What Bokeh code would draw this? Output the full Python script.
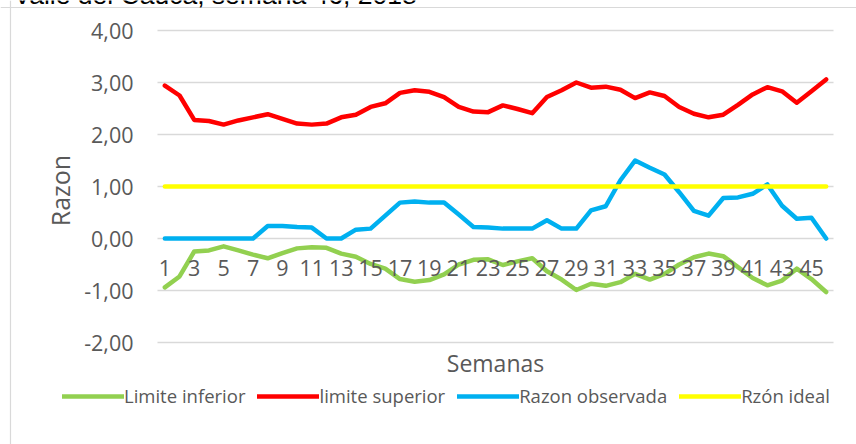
from bokeh.plotting import figure
from bokeh.models import (Range1d, FixedTicker, CustomJSTickFormatter, Legend,
                          LegendItem, Label, Span)
from bokeh.embed import file_html
from bokeh.resources import INLINE

weeks = list(range(1, 47))

limite_inferior = [
    -0.94, -0.73, -0.25, -0.23, -0.15, -0.23, -0.31, -0.38, -0.28, -0.19,
    -0.17, -0.18, -0.29, -0.35, -0.49, -0.58, -0.78, -0.83, -0.80, -0.69,
    -0.50, -0.41, -0.40, -0.51, -0.44, -0.38, -0.63, -0.79, -0.99, -0.87,
    -0.91, -0.84, -0.68, -0.79, -0.68, -0.50, -0.36, -0.29, -0.34, -0.55,
    -0.76, -0.90, -0.81, -0.58, -0.78, -1.03,
]

limite_superior = [
    2.94, 2.75, 2.28, 2.26, 2.19, 2.27, 2.33, 2.39, 2.30, 2.21,
    2.19, 2.21, 2.33, 2.38, 2.53, 2.60, 2.80, 2.85, 2.82, 2.72,
    2.53, 2.44, 2.43, 2.56, 2.49, 2.41, 2.72, 2.85, 3.00, 2.90,
    2.92, 2.86, 2.70, 2.81, 2.74, 2.53, 2.40, 2.33, 2.38, 2.57,
    2.77, 2.91, 2.83, 2.61, 2.83, 3.06,
]

razon_observada = [
    0.00, 0.00, 0.00, 0.00, 0.00, 0.00, 0.00, 0.24, 0.24, 0.22,
    0.21, 0.00, 0.00, 0.17, 0.19, 0.44, 0.69, 0.71, 0.69, 0.69,
    0.46, 0.22, 0.21, 0.19, 0.19, 0.19, 0.35, 0.19, 0.19, 0.54,
    0.62, 1.12, 1.50, 1.36, 1.23, 0.89, 0.53, 0.44, 0.78, 0.79,
    0.86, 1.04, 0.63, 0.38, 0.40, 0.00,
]

razon_ideal = [1.00] * 46

x_ticks = list(range(1, 46, 2))
y_ticks = [-2, -1, 0, 1, 2, 3, 4]

series_names = ["Limite inferior", "limite superior", "Razon observada", "Rzón ideal"]
series_colors = ["#92D050", "#FF0000", "#00B0F0", "#FFFF00"]
series_values = [limite_inferior, limite_superior, razon_observada, razon_ideal]

title_text = "Valle del Cauca, semana 46, 2018"
x_title = "Semanas"
y_title = "Razon"

TEXT = "#595959"
GRID = "#D9D9D9"
FONT = "Open Sans"

# ---- layout (pixels) ----
W, H = 856, 444
PLOT_L, PLOT_R, PLOT_T, PLOT_B = 157, 833, 30, 342

x_lo, x_hi = weeks[0] - 0.5, weeks[-1] + 0.5
y_lo, y_hi = min(y_ticks), max(y_ticks)
ppx = (PLOT_R - PLOT_L) / (x_hi - x_lo)
ppy = (PLOT_B - PLOT_T) / (y_hi - y_lo)
x_start = x_lo - PLOT_L / ppx
x_end = x_start + W / ppx
y_end = y_hi + PLOT_T / ppy
y_start = y_end - H / ppy

p = figure(
    width=W, height=H,
    x_range=Range1d(x_start, x_end), y_range=Range1d(y_start, y_end),
    output_backend="svg", toolbar_location=None,
    min_border=0, min_border_left=0, min_border_right=0,
    min_border_top=0, min_border_bottom=0,
)
p.outline_line_color = None
p.background_fill_color = "white"
p.border_fill_color = "white"
p.xgrid.visible = False
p.ygrid.visible = False

# chart-area border (left and top edges visible in the reference)
p.add_layout(Span(location=10, location_units="screen", dimension="height",
                  line_color=GRID, line_width=1.2))
p.add_layout(Span(location=H - 7, location_units="screen", dimension="width",
                  line_color=GRID, line_width=1.2))

# horizontal gridlines over the plot area
p.segment(x0=[x_lo] * len(y_ticks), x1=[x_hi] * len(y_ticks),
          y0=y_ticks, y1=y_ticks, line_color=GRID, line_width=1.5)

# y axis
ya = p.yaxis[0]
ya.fixed_location = x_lo
ya.bounds = (y_lo - 0.15, y_hi)
ya.ticker = FixedTicker(ticks=y_ticks)
ya.formatter = CustomJSTickFormatter(code="return tick.toFixed(2).replace('.', ',');")
ya.axis_line_color = None
ya.major_tick_line_color = None
ya.minor_tick_line_color = None
ya.major_tick_out = 0
ya.major_label_standoff = 24
ya.major_label_text_font = FONT
ya.major_label_text_font_size = "21.5px"
ya.major_label_text_color = TEXT
ya.axis_label = y_title
ya.axis_label_text_font = FONT
ya.axis_label_text_font_size = "25px"
ya.axis_label_text_font_style = "normal"
ya.axis_label_text_color = TEXT
ya.axis_label_standoff = 4

# x axis crossing at zero
xa = p.xaxis[0]
xa.fixed_location = 0
xa.ticker = FixedTicker(ticks=x_ticks)
xa.axis_line_color = None
xa.major_tick_line_color = None
xa.minor_tick_line_color = None
xa.major_tick_out = 0
xa.major_label_standoff = 21
xa.major_label_text_font = FONT
xa.major_label_text_font_size = "21.5px"
xa.major_label_text_color = TEXT

renderers = []
for name, color, vals in zip(series_names, series_colors, series_values):
    r = p.line(weeks, vals, line_color=color, line_width=4.5,
               line_join="round", line_cap="round")
    renderers.append(r)

legend = Legend(
    items=[LegendItem(label=n, renderers=[r]) for n, r in zip(series_names, renderers)],
    orientation="horizontal",
    location=(62, 36),
    padding=0, margin=0,
    glyph_width=62, glyph_height=20, label_height=20,
    label_standoff=0, spacing=12,
    label_text_font=FONT, label_text_font_size="18.5px", label_text_color=TEXT,
    border_line_color=None, background_fill_alpha=0,
)
p.add_layout(legend)

p.add_layout(Label(
    text=x_title, x=(PLOT_L + PLOT_R) / 2, y=H - 362.5, x_units="screen", y_units="screen",
    text_align="center", text_baseline="alphabetic",
    text_font=FONT, text_font_size="23px", text_color=TEXT,
))

p.add_layout(Label(
    text=title_text, x=13, y=H + 5.5, x_units="screen", y_units="screen",
    text_align="left", text_baseline="alphabetic",
    text_font="Liberation Sans", text_font_size="26.5px", text_color="#000000",
))

open("out.html", "w").write(file_html(p, INLINE))
